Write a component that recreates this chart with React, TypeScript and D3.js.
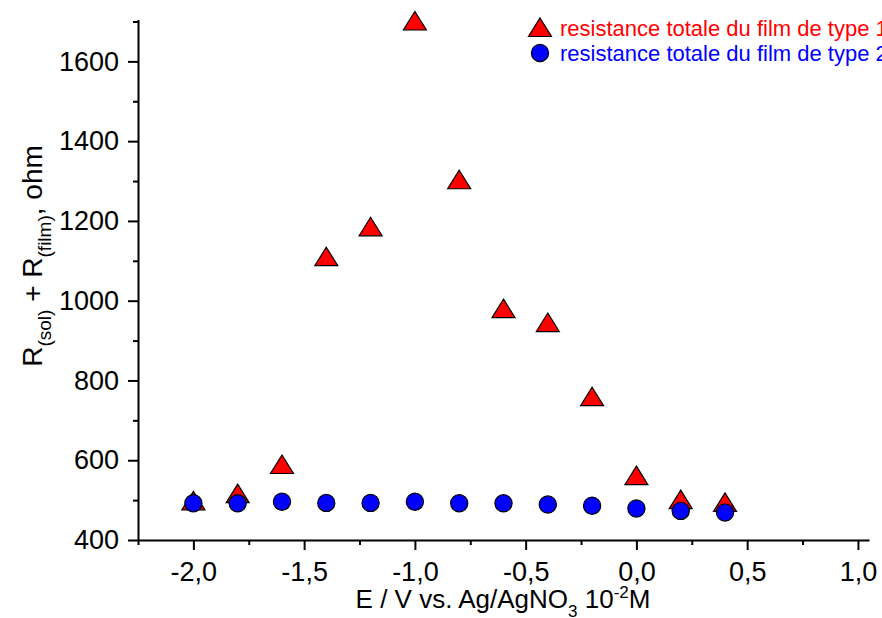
import React, { useEffect, useRef } from "react";
import * as d3 from "d3";

const potentials = [-2.0, -1.8, -1.6, -1.4, -1.2, -1.0, -0.8, -0.6, -0.4, -0.2, 0.0, 0.2, 0.4];
const filmType1 = [497, 515, 588, 1109, 1184, 1700, 1302, 979, 944, 758, 560, 500, 493];
const filmType2 = [492, 492, 496, 493, 493, 496, 492, 492, 489, 486, 479, 473, 469];
const xMajorTicks = [-2.0, -1.5, -1.0, -0.5, 0.0, 0.5, 1.0];
const xMinorTicks = [-2.25, -1.75, -1.25, -0.75, -0.25, 0.25, 0.75];
const yMajorTicks = [400, 600, 800, 1000, 1200, 1400, 1600];
const yMinorTicks = [500, 700, 900, 1100, 1300, 1500, 1700];
const legendLabels = ["resistance totale du film de type 1", "resistance totale du film de type 2"];

const W = 882;
const H = 618;
const FONT = "'Liberation Sans', Arial, Helvetica, sans-serif";

export default function App() {
  const ref = useRef<SVGSVGElement>(null);

  useEffect(() => {
    const svg = d3.select(ref.current);
    svg.selectAll("*").remove();

    const x = d3.scaleLinear().domain([-2.25, 1.05]).range([138, 869]);
    const y = d3.scaleLinear().domain([400, 1705]).range([540, 19.5]);

    const locale = d3.formatLocale({ decimal: ",", thousands: "", grouping: [3], currency: ["", ""], minus: "-" });
    const fx = locale.format(".1f");
    const fy = (d: any) => String(d);

    // X axis
    const gx = svg.append("g").attr("transform", `translate(0,${y(400)})`);
    gx.call(
      d3.axisBottom(x).tickValues(xMajorTicks).tickSize(10).tickPadding(8).tickFormat((d: any) => fx(d)).tickSizeOuter(0)
    );
    gx.select(".domain").attr("stroke-width", 2);
    gx.selectAll(".tick line").attr("stroke-width", 2);
    gx.selectAll(".tick text").attr("font-family", FONT).attr("font-size", 27).attr("fill", "#000").attr("dy", "0.86em");
    const gxm = svg.append("g").attr("transform", `translate(0,${y(400)})`);
    gxm.call(d3.axisBottom(x).tickValues(xMinorTicks).tickSize(5).tickFormat(() => "").tickSizeOuter(0));
    gxm.select(".domain").remove();
    gxm.selectAll(".tick line").attr("stroke-width", 2);

    // Y axis
    const gy = svg.append("g").attr("transform", `translate(${x(-2.25)},0)`);
    gy.call(d3.axisLeft(y).tickValues(yMajorTicks).tickSize(10).tickPadding(9).tickFormat(fy).tickSizeOuter(0));
    gy.select(".domain").attr("stroke-width", 2);
    gy.selectAll(".tick line").attr("stroke-width", 2);
    gy.selectAll(".tick text").attr("font-family", FONT).attr("font-size", 27).attr("fill", "#000");
    const gym = svg.append("g").attr("transform", `translate(${x(-2.25)},0)`);
    gym.call(d3.axisLeft(y).tickValues(yMinorTicks).tickSize(5).tickFormat(() => "").tickSizeOuter(0));
    gym.select(".domain").remove();
    gym.selectAll(".tick line").attr("stroke-width", 2);

    // markers
    const triPath = "M0,-10L11.5,8.5L-11.5,8.5Z";
    const g = svg.append("g");
    g.selectAll("path.t1")
      .data(potentials.map((p, i) => [p, filmType1[i]]))
      .join("path")
      .attr("class", "t1")
      .attr("d", triPath)
      .attr("transform", (d) => `translate(${x(d[0])},${y(d[1])})`)
      .attr("fill", "#ff0000")
      .attr("stroke", "#000")
      .attr("stroke-width", 1.2);
    g.selectAll("circle.t2")
      .data(potentials.map((p, i) => [p, filmType2[i]]))
      .join("circle")
      .attr("class", "t2")
      .attr("cx", (d) => x(d[0]))
      .attr("cy", (d) => y(d[1]))
      .attr("r", 8.6)
      .attr("fill", "#0000ff")
      .attr("stroke", "#000")
      .attr("stroke-width", 1.2);

    // legend
    const lg = svg.append("g");
    lg.append("path").attr("d", triPath).attr("transform", "translate(540,28)").attr("fill", "#ff0000").attr("stroke", "#000").attr("stroke-width", 1.2);
    lg.append("circle").attr("cx", 540).attr("cy", 53).attr("r", 8.6).attr("fill", "#0000ff").attr("stroke", "#000").attr("stroke-width", 1.2);
    lg.append("text").attr("x", 560).attr("y", 35.5).attr("font-family", FONT).attr("font-size", 22).attr("fill", "#ff0000").text(legendLabels[0]);
    lg.append("text").attr("x", 560).attr("y", 61).attr("font-family", FONT).attr("font-size", 22).attr("fill", "#0000ff").text(legendLabels[1]);

    // y label
    const yl = svg.append("text")
      .attr("transform", "translate(42,256) rotate(-90)")
      .attr("text-anchor", "middle")
      .attr("font-family", FONT)
      .attr("font-size", 28)
      .attr("fill", "#000");
    yl.append("tspan").text("R");
    yl.append("tspan").attr("font-size", 19).attr("dy", 9).text("(sol)");
    yl.append("tspan").attr("dy", -9).text(" + R");
    yl.append("tspan").attr("font-size", 19).attr("dy", 9).text("(film)");
    yl.append("tspan").attr("dy", -9).text(", ohm");

    // x label
    const xl = svg.append("text")
      .attr("x", 503)
      .attr("y", 608)
      .attr("text-anchor", "middle")
      .attr("font-family", FONT)
      .attr("font-size", 26)
      .attr("fill", "#000");
    xl.append("tspan").text("E / V vs. Ag/AgNO");
    xl.append("tspan").attr("font-size", 17).attr("dy", 9).text("3");
    xl.append("tspan").attr("dy", -9).text(" 10");
    xl.append("tspan").attr("font-size", 17).attr("dy", -10).text("-2");
    xl.append("tspan").attr("dy", 10).text("M");
  }, []);

  return (
    <svg
      ref={ref}
      width={W}
      height={H}
      viewBox={`0 0 ${W} ${H}`}
      style={{ position: "absolute", left: 0, top: 0, background: "#fff" }}
    />
  );
}
